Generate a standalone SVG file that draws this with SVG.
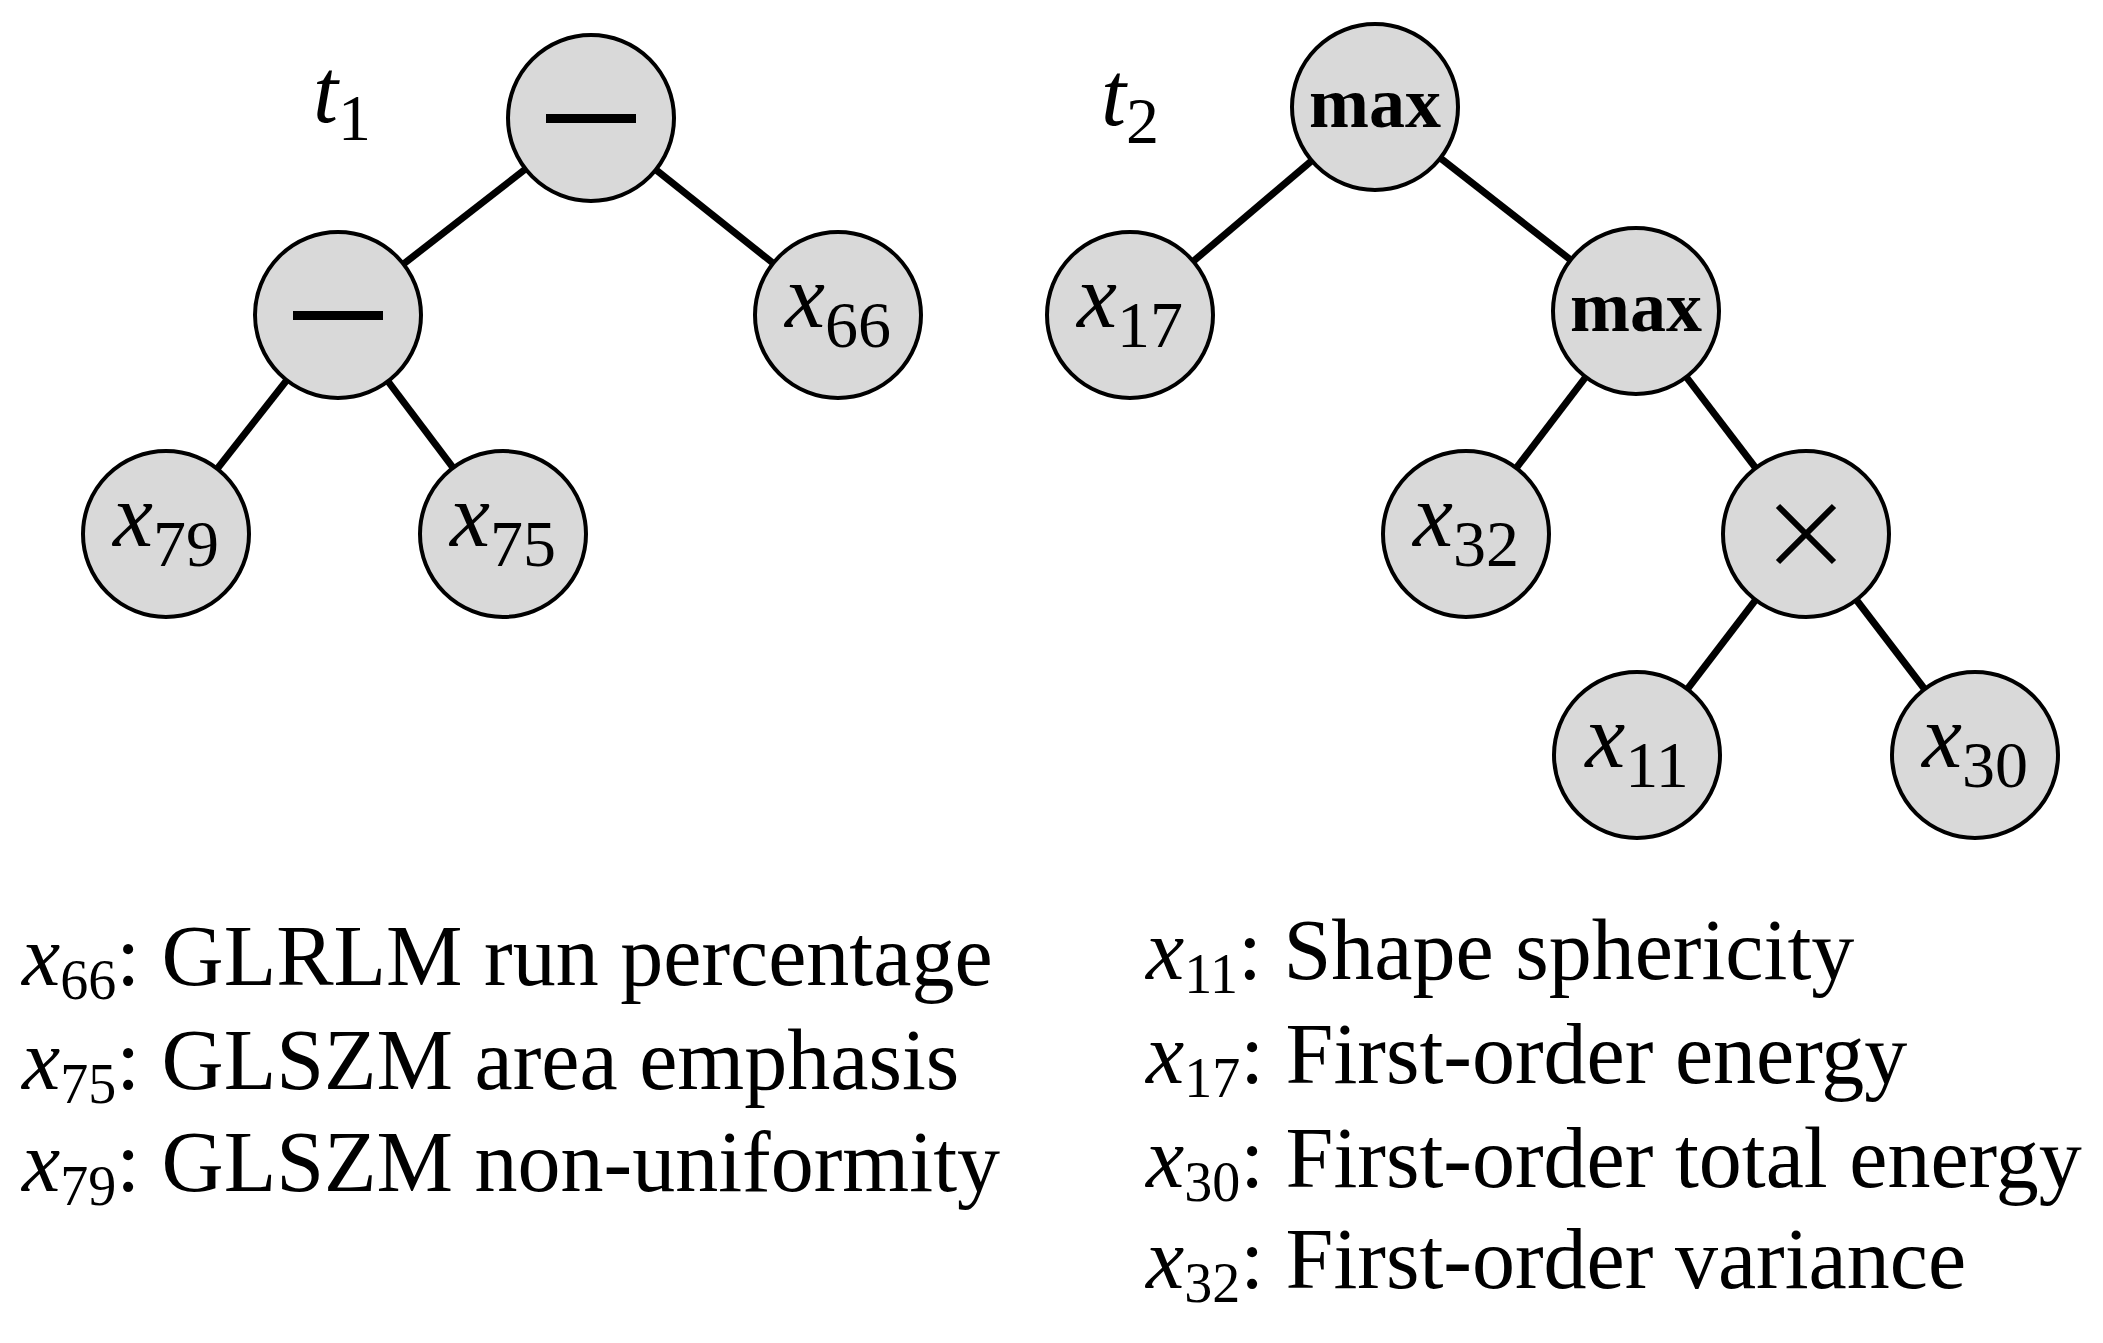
<svg xmlns="http://www.w3.org/2000/svg" width="2103" height="1343" viewBox="0 0 2103 1343">
<style>
.n{fill:#d9d9d9;stroke:#000;stroke-width:4}
.e{stroke:#000;stroke-width:7}
.v{font-family:"Liberation Serif",serif;font-style:italic;font-size:90px;text-anchor:middle}
.s{font-style:normal;font-size:66px}
.m{font-family:"Liberation Serif",serif;font-weight:bold;font-size:72px;text-anchor:middle}
.l{font-family:"Liberation Serif",serif;font-size:86px}
.li{font-style:italic}
.ls{font-size:56px}
</style>
<rect width="2103" height="1343" fill="#fff"/>
<g id="connectors">
<line class="e" x1="591" y1="118" x2="338" y2="315"/>
<line class="e" x1="591" y1="118" x2="838" y2="315"/>
<line class="e" x1="338" y1="315" x2="166" y2="534"/>
<line class="e" x1="338" y1="315" x2="503" y2="534"/>
<line class="e" x1="1375" y1="107" x2="1130" y2="315"/>
<line class="e" x1="1375" y1="107" x2="1636" y2="311"/>
<line class="e" x1="1636" y1="311" x2="1466" y2="534"/>
<line class="e" x1="1636" y1="311" x2="1806" y2="534"/>
<line class="e" x1="1806" y1="534" x2="1637" y2="755"/>
<line class="e" x1="1806" y1="534" x2="1975" y2="755"/>
</g>
<text class="v" x="342" y="122">t<tspan class="s" dy="18">1</tspan></text>
<text class="v" x="1130" y="125">t<tspan class="s" dy="18">2</tspan></text>
<g id="t1root"><circle class="n" cx="591" cy="118" r="83"/><rect x="546" y="114" width="90" height="9"/></g>
<g id="t1minus"><circle class="n" cx="338" cy="315" r="83"/><rect x="293" y="311" width="90" height="9"/></g>
<g id="x66"><circle class="n" cx="838" cy="315" r="83"/><text class="v" x="838" y="327">x<tspan class="s" dy="20">66</tspan></text></g>
<g id="x79"><circle class="n" cx="166" cy="534" r="83"/><text class="v" x="166" y="546">x<tspan class="s" dy="20">79</tspan></text></g>
<g id="x75"><circle class="n" cx="503" cy="534" r="83"/><text class="v" x="503" y="546">x<tspan class="s" dy="20">75</tspan></text></g>
<g id="t2root"><circle class="n" cx="1375" cy="107" r="83"/><text class="m" x="1375" y="127">max</text></g>
<g id="x17"><circle class="n" cx="1130" cy="315" r="83"/><text class="v" x="1130" y="327">x<tspan class="s" dy="20">17</tspan></text></g>
<g id="max2"><circle class="n" cx="1636" cy="311" r="83"/><text class="m" x="1636" y="331">max</text></g>
<g id="x32"><circle class="n" cx="1466" cy="534" r="83"/><text class="v" x="1466" y="546">x<tspan class="s" dy="20">32</tspan></text></g>
<g id="times"><circle class="n" cx="1806" cy="534" r="83"/><path d="M1778 506L1834 562M1834 506L1778 562" stroke="#000" stroke-width="6"/></g>
<g id="x11"><circle class="n" cx="1637" cy="755" r="83"/><text class="v" x="1637" y="767">x<tspan class="s" dy="20">11</tspan></text></g>
<g id="x30"><circle class="n" cx="1975" cy="755" r="83"/><text class="v" x="1975" y="767">x<tspan class="s" dy="20">30</tspan></text></g>
<g id="legend">
<text class="l" x="22" y="985"><tspan class="li">x</tspan><tspan class="ls" dy="14">66</tspan><tspan dy="-14">: GLRLM run percentage</tspan></text>
<text class="l" x="22" y="1089"><tspan class="li">x</tspan><tspan class="ls" dy="14">75</tspan><tspan dy="-14">: GLSZM area emphasis</tspan></text>
<text class="l" x="22" y="1191"><tspan class="li">x</tspan><tspan class="ls" dy="14">79</tspan><tspan dy="-14">: GLSZM non-uniformity</tspan></text>
<text class="l" x="1146" y="979"><tspan class="li">x</tspan><tspan class="ls" dy="14">11</tspan><tspan dy="-14">: Shape sphericity</tspan></text>
<text class="l" x="1146" y="1083"><tspan class="li">x</tspan><tspan class="ls" dy="14">17</tspan><tspan dy="-14">: First-order energy</tspan></text>
<text class="l" x="1146" y="1187"><tspan class="li">x</tspan><tspan class="ls" dy="14">30</tspan><tspan dy="-14">: First-order total energy</tspan></text>
<text class="l" x="1146" y="1288"><tspan class="li">x</tspan><tspan class="ls" dy="14">32</tspan><tspan dy="-14">: First-order variance</tspan></text>
</g>
</svg>
